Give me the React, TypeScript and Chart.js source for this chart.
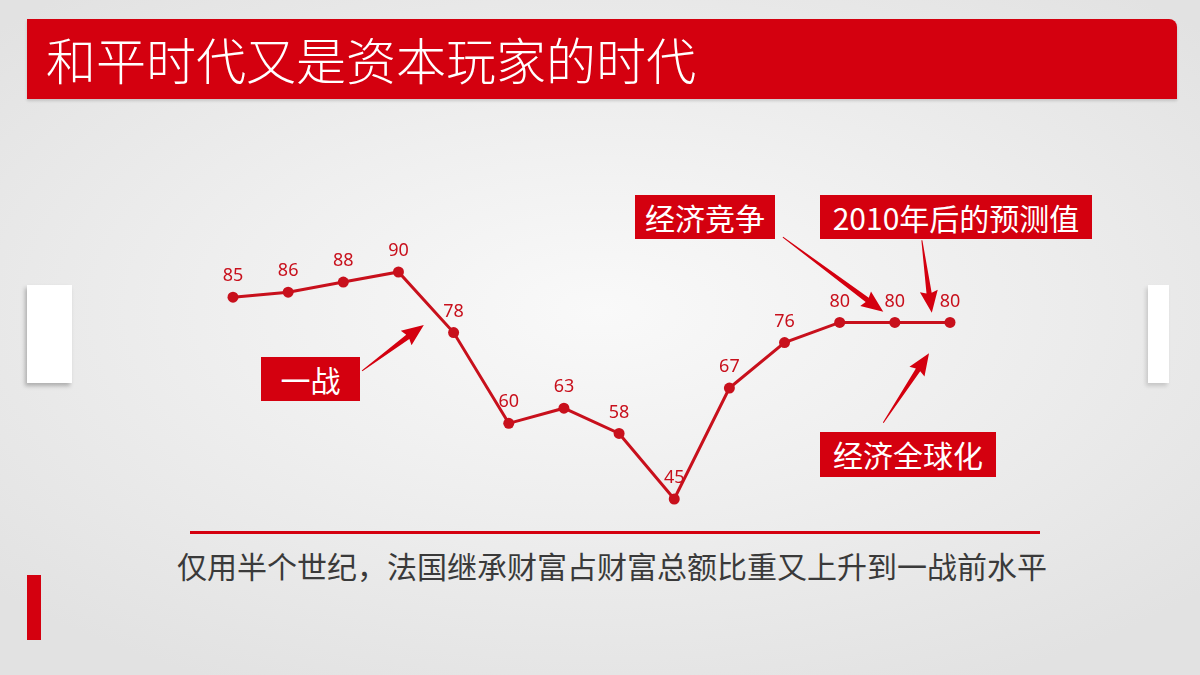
import React, { useEffect, useRef } from 'react';
import { Chart, registerables } from 'chart.js';

Chart.register(...registerables);

// decades (not shown on the slide), share of inherited wealth in total wealth, %
const years = ['1880', '1890', '1900', '1910', '1920', '1930', '1940', '1950', '1960', '1970', '1980', '1990', '2000', '2010'];
const shares = [85, 86, 88, 90, 78, 60, 63, 58, 45, 67, 76, 80, 80, 80];

const title = '和平时代又是资本玩家的时代';
const caption = '仅用半个世纪，法国继承财富占财富总额比重又上升到一战前水平';
const calloutTexts = ['一战', '经济竞争', '2010年后的预测值', '经济全球化'];

// arrows in data units: [index, value]
const arrowTails = [[2.34, 70.4], [9.97, 96.9], [12.49, 96.3], [11.79, 60.1]];
const arrowTips = [[3.46, 79.5], [11.79, 82.1], [12.67, 81.9], [12.62, 73.9]];

const RED = '#d4000f';
const LINE = '#c8101c';
const CJK = '"Noto Sans CJK SC", "Noto Sans", sans-serif';

const calloutBoxes = [
  { left: 261, top: 357, width: 99, height: 44 },
  { left: 635, top: 195, width: 140, height: 44 },
  { left: 820, top: 195, width: 272, height: 44 },
  { left: 820, top: 432, width: 176, height: 45 },
];

function drawArrow(ctx: CanvasRenderingContext2D, x1: number, y1: number, x2: number, y2: number) {
  const dx = x2 - x1, dy = y2 - y1;
  const len = Math.hypot(dx, dy);
  const ux = dx / len, uy = dy / len;
  const px = -uy, py = ux;
  const head = 20, hw = 9, bw = 2.6, tw = 0.5;
  const at = (u: number, w: number): [number, number] => [x1 + ux * u + px * w, y1 + uy * u + py * w];
  const pts = [at(0, tw), at(len - head, bw), at(len - head - 2, hw), at(len, 0), at(len - head - 2, -hw), at(len - head, -bw), at(0, -tw)];
  ctx.beginPath();
  ctx.moveTo(pts[0][0], pts[0][1]);
  for (const p of pts.slice(1)) ctx.lineTo(p[0], p[1]);
  ctx.closePath();
  ctx.fill();
}

const overlay = {
  id: 'overlay',
  afterDatasetsDraw(chart: any) {
    const { ctx, scales } = chart;
    const x = scales.x, y = scales.y;
    ctx.save();
    ctx.fillStyle = LINE;
    ctx.font = '18px "Noto Sans", sans-serif';
    ctx.textAlign = 'center';
    ctx.textBaseline = 'middle';
    shares.forEach((v, i) => {
      ctx.fillText(String(v), x.getPixelForValue(i), y.getPixelForValue(v) - 21);
    });
    ctx.fillStyle = RED;
    arrowTails.forEach((t, i) => {
      const h = arrowTips[i];
      drawArrow(ctx, x.getPixelForValue(t[0]), y.getPixelForValue(t[1]), x.getPixelForValue(h[0]), y.getPixelForValue(h[1]));
    });
    ctx.restore();
  },
};

function ShareChart() {
  const ref = useRef<HTMLCanvasElement>(null);
  useEffect(() => {
    if (!ref.current) return;
    const chart = new Chart(ref.current, {
      type: 'line',
      data: {
        labels: years,
        datasets: [{
          data: shares,
          borderColor: LINE,
          backgroundColor: LINE,
          borderWidth: 3,
          pointRadius: 5.5,
          pointBackgroundColor: LINE,
          pointBorderWidth: 0,
          tension: 0,
          clip: false,
        }],
      },
      options: {
        animation: false,
        responsive: true,
        maintainAspectRatio: false,
        layout: { padding: { left: 233, right: 250, top: 272, bottom: 176 } },
        plugins: { legend: { display: false }, tooltip: { enabled: false } },
        scales: {
          x: { display: false, offset: false },
          y: { display: false, min: 45, max: 90 },
        },
      },
      plugins: [overlay],
    });
    return () => chart.destroy();
  }, []);
  return (
    <div style={{ position: 'absolute', left: 0, top: 0, width: 1200, height: 675 }}>
      <canvas ref={ref}></canvas>
    </div>
  );
}

export default function App() {
  return (
    <div style={{
      position: 'absolute', left: 0, top: 0, width: 1200, height: 675, overflow: 'hidden',
      background: 'radial-gradient(ellipse 68% 62% at 50% 46%, #f9f9f9 0%, #efefef 45%, #e2e2e2 100%)',
      fontFamily: CJK,
    }}>
      {/* title bar */}
      <div style={{
        position: 'absolute', left: 27, top: 19, width: 1150, height: 80, background: RED,
        borderTopRightRadius: 8, boxShadow: '0 2px 3px rgba(0,0,0,0.15)',
      }}></div>
      <div style={{
        position: 'absolute', left: 46, top: 25, height: 66, lineHeight: '66px', fontSize: 50, fontWeight: 300,
        color: '#fff', whiteSpace: 'nowrap',
      }}>{title}</div>

      {/* side tabs */}
      <div style={{ position: 'absolute', left: 27, top: 285, width: 45, height: 98, background: '#fff', boxShadow: '-2px 3px 4px rgba(0,0,0,0.25)' }}></div>
      <div style={{ position: 'absolute', left: 1148, top: 285, width: 21, height: 98, background: '#fff', boxShadow: '-2px 3px 4px rgba(0,0,0,0.15)' }}></div>
      <div style={{ position: 'absolute', left: 27, top: 575, width: 14, height: 65, background: RED }}></div>

      {/* baseline + caption */}
      <div style={{ position: 'absolute', left: 190, top: 531, width: 850, height: 2.5, background: RED }}></div>
      <div style={{
        position: 'absolute', left: 0, width: 1224, top: 545, height: 40, lineHeight: '40px', textAlign: 'center',
        fontSize: 30, color: '#3a3a3a', whiteSpace: 'nowrap',
      }}>{caption}</div>

      <ShareChart />

      {calloutTexts.map((t, i) => {
        const b = calloutBoxes[i];
        return (
          <div key={t} style={{
            position: 'absolute', left: b.left, top: b.top, width: b.width, height: b.height,
            background: RED, color: '#fff', fontSize: 30, lineHeight: b.height + 'px',
            textAlign: 'center', whiteSpace: 'nowrap',
          }}>{t}</div>
        );
      })}
    </div>
  );
}
